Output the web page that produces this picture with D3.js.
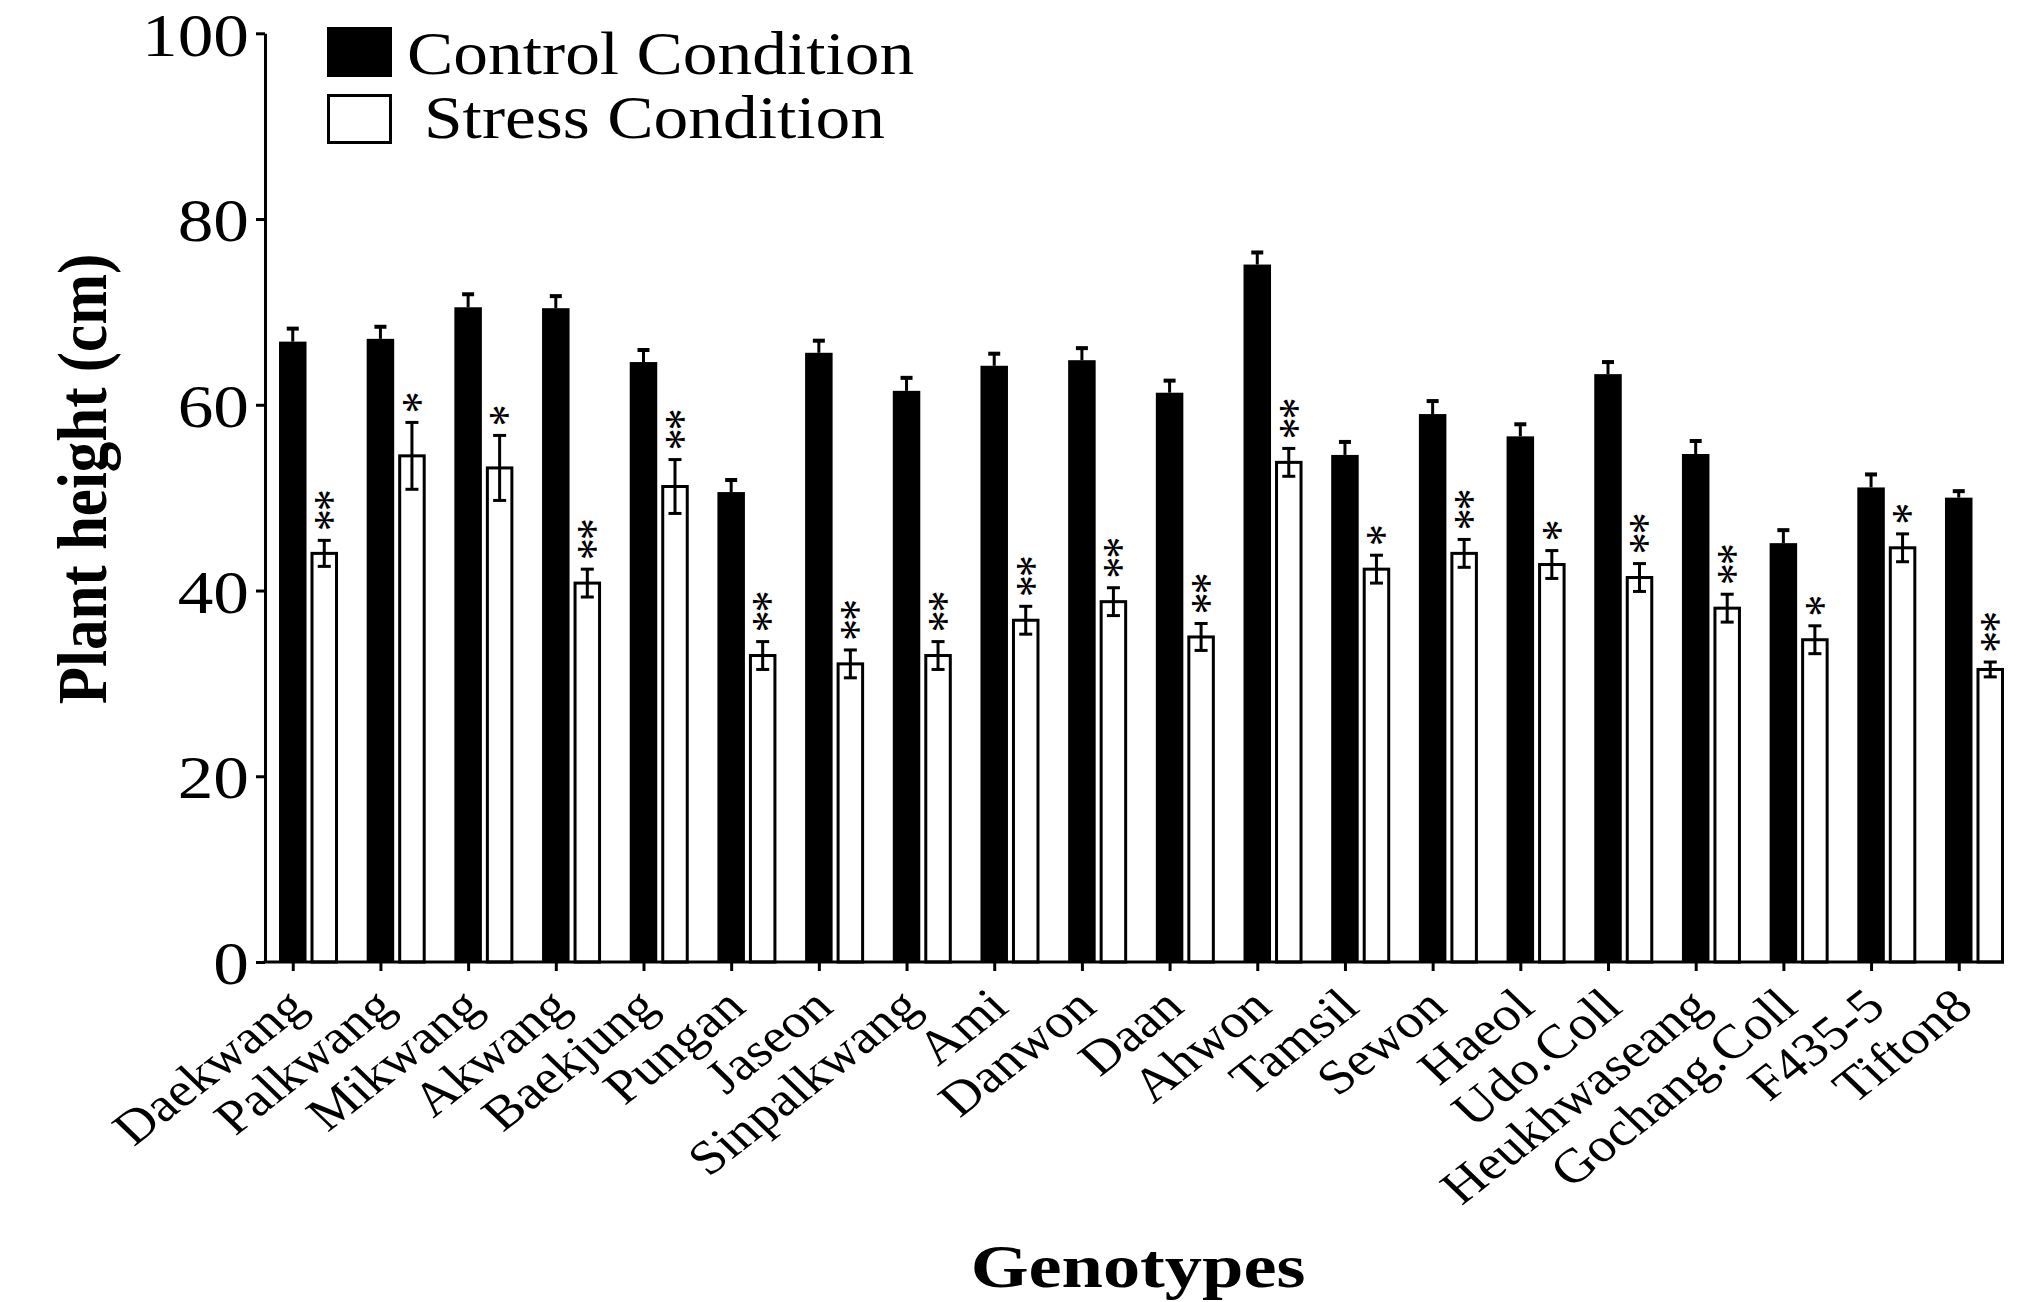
<!DOCTYPE html>
<html>
<head>
<meta charset="utf-8">
<script src="https://cdn.jsdelivr.net/npm/d3@7"></script>
<style>
  body { margin: 0; background: #fff; }
  svg { display: block; }
</style>
</head>
<body>
<div id="chart"></div>
<script>
var W = 2041, H = 1302;

// data
var genotypes = ["Daekwang", "Palkwang", "Mikwang", "Akwang", "Baekjung", "Pungan", "Jaseon",
                 "Sinpalkwang", "Ami", "Danwon", "Daan", "Ahwon", "Tamsil", "Sewon", "Haeol",
                 "Udo.Coll", "Heukhwaseang", "Gochang.Coll", "F435-5", "Tifton8"];
var controlMean = [66.8, 67.1, 70.5, 70.4, 64.6, 50.6, 65.6, 61.5, 64.2, 64.8,
                   61.3, 75.1, 54.6, 59.0, 56.6, 63.3, 54.7, 45.1, 51.1, 50.0];
var controlSE   = [1.4, 1.3, 1.4, 1.3, 1.3, 1.3, 1.3, 1.4, 1.3, 1.3,
                   1.3, 1.3, 1.4, 1.4, 1.3, 1.3, 1.4, 1.4, 1.4, 0.7];
var stressMean  = [44.0, 54.5, 53.2, 40.8, 51.2, 33.0, 32.1, 33.0, 36.8, 38.8,
                   35.0, 53.8, 42.3, 44.0, 42.8, 41.4, 38.1, 34.7, 44.6, 31.5];
var stressSE    = [1.4, 3.6, 3.5, 1.5, 2.9, 1.5, 1.5, 1.5, 1.5, 1.5,
                   1.45, 1.5, 1.5, 1.5, 1.5, 1.5, 1.5, 1.5, 1.5, 0.8];
var signif      = ["**", "*", "*", "**", "**", "**", "**", "**", "**", "**",
                   "**", "**", "*", "**", "*", "**", "**", "*", "*", "**"];
var yTicks = [0, 20, 40, 60, 80, 100];
var seriesNames = ["Control Condition", "Stress Condition"];

var SX = 1.15;            // the original figure is stretched sideways
var FONT = "'Liberation Serif', 'Times New Roman', serif";

var svg = d3.select("#chart")
            .append("svg")
            .attr("width", W)
            .attr("height", H)
            .style("background", "#fff");

// scales
var axisX = 265;
var y = d3.scaleLinear()
          .domain([0, 100])
          .range([962, 33.3]);

var x = d3.scaleBand()
          .domain(genotypes)
          .range([279, 2004])
          .paddingInner(0.327)
          .paddingOuter(0);

var xs = d3.scaleBand()
           .domain(["control", "stress"])
           .range([0, x.bandwidth()])
           .paddingInner(0.127);

var bw = xs.bandwidth();

// ticks sit under the control bar
var xTick = d3.scalePoint()
              .domain(genotypes)
              .range([x(genotypes[0]) + xs("control") + bw / 2,
                      x(genotypes[genotypes.length - 1]) + xs("control") + bw / 2]);

var rows = genotypes.map(function(g, i) {
    return { g: g, c: controlMean[i], cse: controlSE[i], s: stressMean[i], sse: stressSE[i], sig: signif[i] };
});

// control bars
svg.append("g")
   .selectAll("rect")
   .data(rows)
   .enter()
   .append("rect")
   .attr("x", function(d) { return x(d.g) + xs("control"); })
   .attr("y", function(d) { return y(d.c); })
   .attr("width", bw)
   .attr("height", function(d) { return y(0) - y(d.c); })
   .attr("fill", "#000");

// control error bars (upper only)
var cerr = svg.append("g").attr("stroke", "#000").attr("stroke-width", 3);
rows.forEach(function(d) {
    var cx = x(d.g) + xs("control") + bw / 2;
    cerr.append("line").attr("x1", cx).attr("x2", cx)
        .attr("y1", y(d.c)).attr("y2", y(d.c + d.cse));
    cerr.append("line").attr("x1", cx - 6).attr("x2", cx + 6)
        .attr("y1", y(d.c + d.cse)).attr("y2", y(d.c + d.cse)).attr("stroke-width", 4);
});

// stress bars
svg.append("g")
   .selectAll("rect")
   .data(rows)
   .enter()
   .append("rect")
   .attr("x", function(d) { return x(d.g) + xs("stress") + 1.5; })
   .attr("y", function(d) { return y(d.s); })
   .attr("width", bw - 3)
   .attr("height", function(d) { return y(0) - y(d.s); })
   .attr("fill", "#fff")
   .attr("stroke", "#000")
   .attr("stroke-width", 3);

// stress error bars (both sides)
var serr = svg.append("g").attr("stroke", "#000").attr("stroke-width", 3);
rows.forEach(function(d) {
    var cx = x(d.g) + xs("stress") + bw / 2;
    serr.append("line").attr("x1", cx).attr("x2", cx)
        .attr("y1", y(d.s - d.sse)).attr("y2", y(d.s + d.sse));
    [d.s - d.sse, d.s + d.sse].forEach(function(v) {
        serr.append("line").attr("x1", cx - 6.5).attr("x2", cx + 6.5)
            .attr("y1", y(v)).attr("y2", y(v));
    });
});

// significance stars: one text per bar, run upward so "**" stacks
var starSize = 44;
svg.append("g")
   .selectAll("text")
   .data(rows)
   .enter()
   .append("text")
   .attr("transform", function(d) {
       var cx = x(d.g) + xs("stress") + bw / 2 + 0.47 * starSize * SX;
       return "translate(" + cx + "," + (y(d.s + d.sse) - 9) + ") scale(" + SX + ",1) rotate(-90)";
   })
   .attr("font-family", FONT)
   .attr("font-size", starSize)
   .attr("letter-spacing", -2)
   .text(function(d) { return d.sig; });

// y axis
var yAxis = svg.append("g")
               .attr("transform", "translate(" + axisX + ",0)")
               .call(d3.axisLeft(y).tickValues(yTicks).tickSize(9).tickSizeOuter(0));
yAxis.select(".domain").attr("stroke-width", 3);
yAxis.selectAll(".tick line").attr("stroke-width", 3);
yAxis.selectAll(".tick text")
     .attr("x", null)
     .attr("dy", "0.35em")
     .attr("transform", "translate(-16,0) scale(" + SX + ",1)")
     .attr("font-size", 62)
     .attr("font-family", FONT)
     .attr("fill", "#000");

// x axis
var xAxis = svg.append("g")
               .attr("transform", "translate(0," + y(0) + ")")
               .call(d3.axisBottom(xTick).tickSize(9).tickSizeOuter(0));
xAxis.select(".domain").remove();
xAxis.append("line")
     .attr("x1", axisX - 1.5)
     .attr("x2", x.range()[1])
     .attr("stroke", "#000")
     .attr("stroke-width", 3);
xAxis.selectAll(".tick line").attr("stroke-width", 3);
xAxis.selectAll(".tick text")
     .attr("y", null)
     .attr("dy", null)
     .attr("transform", "translate(16,48) scale(" + SX + ",1) rotate(-42)")
     .attr("text-anchor", "end")
     .attr("font-size", 48)
     .attr("font-family", FONT)
     .attr("fill", "#000");

// axis titles
svg.append("text")
   .attr("transform", "translate(106,479) scale(" + SX + ",1) rotate(-90)")
   .attr("text-anchor", "middle")
   .attr("font-family", FONT)
   .attr("font-weight", "bold")
   .attr("font-size", 61)
   .text("Plant height (cm)");

svg.append("text")
   .attr("transform", "translate(1138,1287) scale(1.2,1)")
   .attr("text-anchor", "middle")
   .attr("font-family", FONT)
   .attr("font-weight", "bold")
   .attr("font-size", 62)
   .text("Genotypes");

// legend
var legend = svg.append("g");
legend.append("rect")
      .attr("x", 327).attr("y", 27).attr("width", 65).attr("height", 50)
      .attr("fill", "#000");
legend.append("rect")
      .attr("x", 328.5).attr("y", 95.5).attr("width", 62).attr("height", 47)
      .attr("fill", "#fff").attr("stroke", "#000").attr("stroke-width", 3);
legend.selectAll("text")
      .data(seriesNames)
      .enter()
      .append("text")
      .attr("transform", function(d, i) {
          return i === 0 ? "translate(407,74) scale(1.12,1)" : "translate(424,138) scale(1.12,1)";
      })
      .attr("font-family", FONT)
      .attr("font-size", 62)
      .text(function(d) { return d; });
</script>
</body>
</html>
